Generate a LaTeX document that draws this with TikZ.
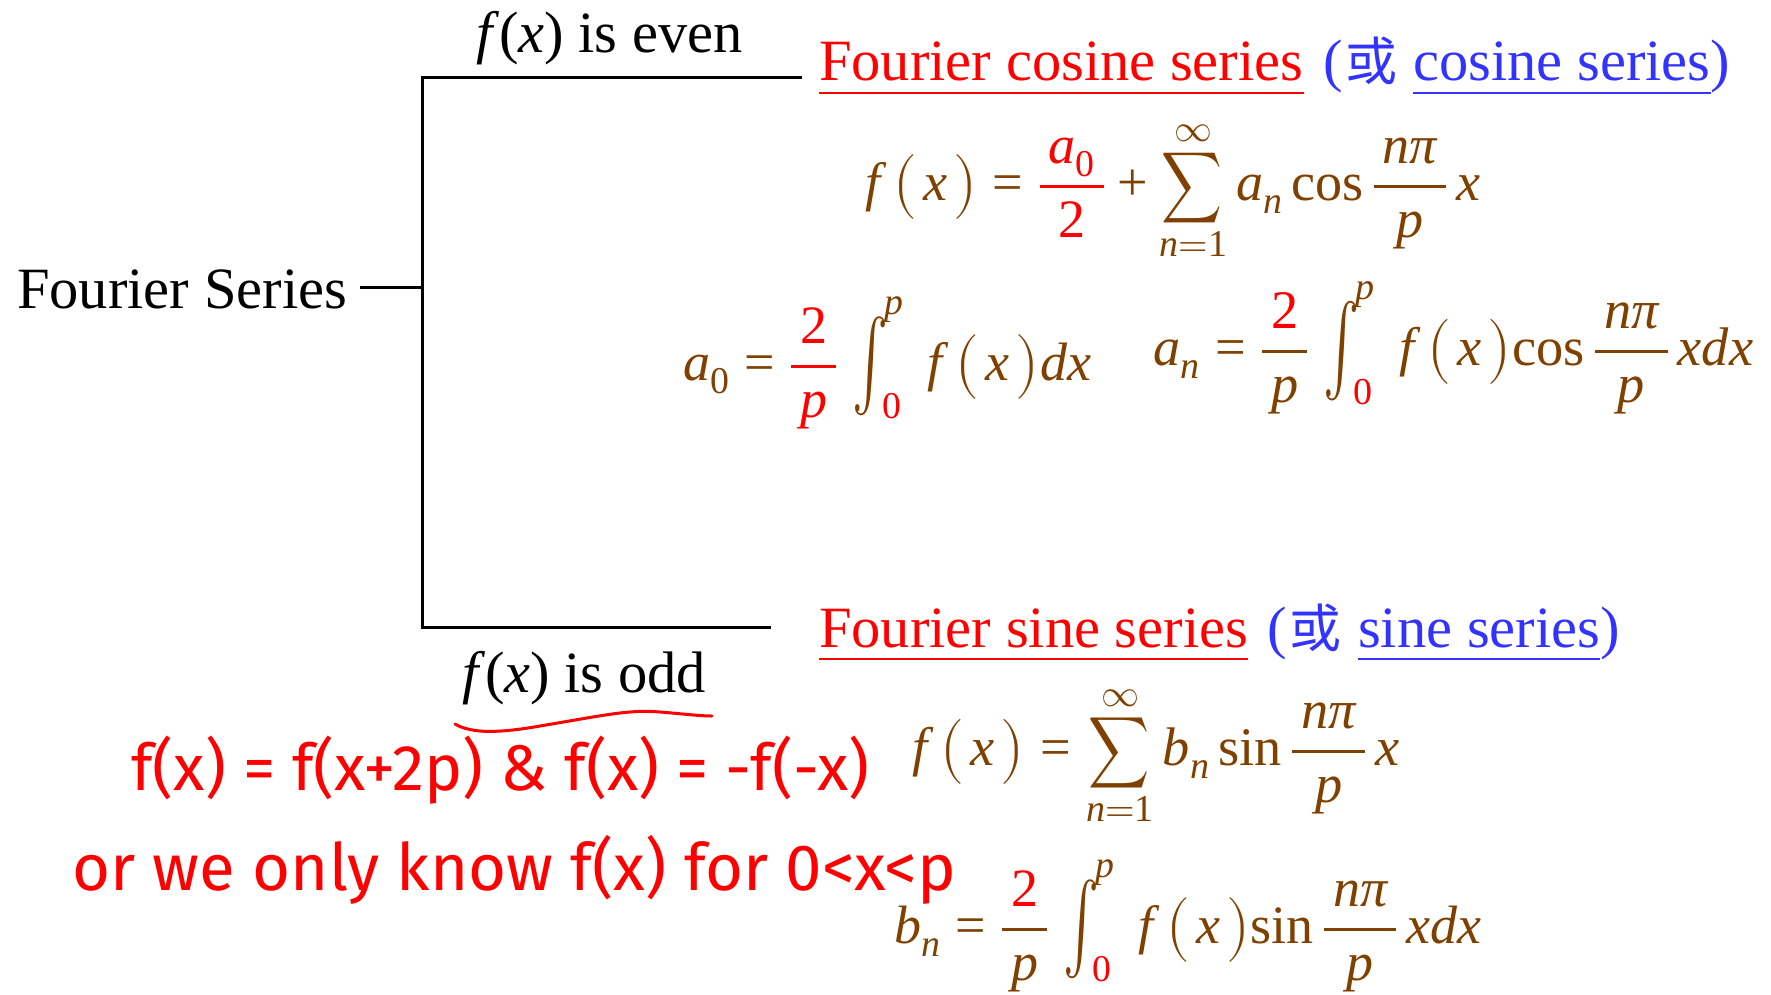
\documentclass[tikz,border=0pt]{standalone}
\usepackage{amsmath}
\usepackage{fontspec}
\usepackage{unicode-math}
\usepackage{graphicx}
\setmainfont{Liberation Serif}
\newfontfamily\cjkfont{Noto Sans CJK SC}
\newfontfamily\handfont{Fira Sans}
\definecolor{rd}{RGB}{255,0,0}
\definecolor{bl}{RGB}{51,51,255}
\definecolor{brn}{RGB}{128,64,0}
\newcommand{\V}[1]{\text{\itshape #1}}
\newcommand{\R}[1]{\text{\upshape #1}}
\newcommand{\Eq}{\mathrel{\R{=}}}
\newcommand{\Pl}{\mathbin{\R{+}}}
\newcommand{\Sum}{\mathop{\scalebox{0.78}[0.92]{$\displaystyle\sum$}}\limits}
\newcommand{\Fx}{\V{f}\mkern4mu\bigl(\mkern2mu\V{x}\mkern2mu\bigr)}
\newcommand{\Fr}[2]{\dfrac{\mkern3mu#1\mkern3mu}{\mkern3mu#2\mkern3mu}}
\newcommand{\Int}[2]{\mkern2mu\mathop{\vcenter{\hbox{\scalebox{1}[1.65]{$\textstyle\int$}}}}\nolimits_{\raisebox{5pt}{$\scriptstyle\mkern-3mu#1$}}^{\raisebox{12pt}{$\scriptstyle\mkern-2mu#2$}}\mkern5mu}
\tikzset{
  txt/.style={inner sep=0pt, anchor=base west, font=\fontsize{58.5}{70}\selectfont},
  eqn/.style={inner sep=0pt, anchor=base west, text=brn, font=\fontsize{56}{66}\selectfont},
  hand/.style={inner sep=0pt, anchor=base west, text=rd, font=\handfont\fontsize{48}{56}\selectfont},
  tree/.style={line width=3pt, black},
  ul/.style={line width=2.6pt},
}
\newcommand{\eqbox}[2]{\resizebox{#1}{!}{$\displaystyle #2$}}
\begin{document}
\begin{tikzpicture}[x=1pt,y=-1pt]
\useasboundingbox (0,0) rectangle (1771,994);
% tree
\node[txt] (fs) at (17,308) {Fourier Series};
\coordinate (stub) at (360,287);
\coordinate (mid) at (422,287);
\coordinate (top) at (422,77);
\coordinate (bot) at (422,627);
\coordinate (topend) at (800,77);
\coordinate (botend) at (769,627);
\draw[tree] (stub) -- (mid);
\draw[tree, line cap=rect] (topend) -- (top) -- (bot) -- (botend);
\node[txt] (even) at (476,52) {\textit{f}(\textit{x}) is even};
\node[txt] (odd) at (462,692) {\textit{f}(\textit{x}) is odd};
% cosine heading
\node[txt, text=rd] (c1) at (819,80) {Fourier cosine series};
\node[txt, text=bl] (c2) at (1323,80) {(\hspace{3pt}{\cjkfont\fontsize{52}{60}\selectfont 或}};
\node[txt, text=bl] (c3) at (1413,80) {cosine series};
\node[txt, text=bl] (c4) at (c3.base east) {)};
\draw[ul, rd] ([yshift=-13pt]c1.base west) -- ([yshift=-13pt]c1.base east);
\draw[ul, bl] ([yshift=-13pt]c3.base west) -- ([yshift=-13pt]c3.base east);
% sine heading
\node[txt, text=rd] (s1) at (819,647) {Fourier sine series};
\node[txt, text=bl] (s2) at (1267,647) {(\hspace{3pt}{\cjkfont\fontsize{52}{60}\selectfont 或}};
\node[txt, text=bl] (s3) at (1358,647) {sine series};
\node[txt, text=bl] (s4) at (s3.base east) {)};
\draw[ul, rd] ([yshift=-12pt]s1.base west) -- ([yshift=-12pt]s1.base east);
\draw[ul, bl] ([yshift=-12pt]s3.base west) -- ([yshift=-12pt]s3.base east);
% equations
\node[eqn] (e1) at (865,200) {\eqbox{615pt}{\Fx\Eq{\color{rd}\Fr{\V{a}_{\R{0}}}{\R{2}}}\Pl\Sum_{\V{n}=\R{1}}^{\infty}\V{a}_{\V{n}}\,\R{cos}\mkern3mu\Fr{\V{nπ}}{\V{p}}\mkern3mu\V{x}}};
\node[eqn] (e2) at (683,380) {\eqbox{408pt}{\V{a}_{\R{0}}\Eq{\color{rd}\Fr{\R{2}}{\V{p}}}\Int{\color{rd}\R{0}}{\V{p}}\Fx\V{dx}}};
\node[eqn] (e3) at (1153,365) {\eqbox{600pt}{\V{a}_{\V{n}}\Eq\Fr{\color{rd}\R{2}}{\V{p}}\Int{\color{rd}\R{0}}{\V{p}}\Fx\R{cos}\mkern3mu\Fr{\V{nπ}}{\V{p}}\mkern3mu\V{xdx}}};
\node[eqn] (e4) at (912,765) {\eqbox{487pt}{\Fx\Eq\Sum_{\V{n}=\R{1}}^{\infty}\V{b}_{\V{n}}\,\R{sin}\mkern3mu\Fr{\V{nπ}}{\V{p}}\mkern3mu\V{x}}};
\node[eqn] (e5) at (894,943) {\eqbox{587pt}{\V{b}_{\V{n}}\Eq\Fr{\color{rd}\R{2}}{\V{p}}\Int{\color{rd}\R{0}}{\V{p}}\Fx\R{sin}\mkern3mu\Fr{\V{nπ}}{\V{p}}\mkern3mu\V{xdx}}};
% handwritten notes
\node[hand] (h1) at (131,790) {\resizebox{738pt}{!}{f(x) = f(x+2p) \& f(x) = -f(-x)}};
\node[hand] (h2) at (72,890) {\resizebox{884pt}{!}{or we only know f(x) for 0<x<p}};
\draw[rd, line width=3pt, line cap=round] (455,724) .. controls (472,734) and (500,733) .. (540,726) .. controls (600,716) and (630,709) .. (660,712) .. controls (685,714) and (700,716) .. (712,716);
\end{tikzpicture}
\end{document}
